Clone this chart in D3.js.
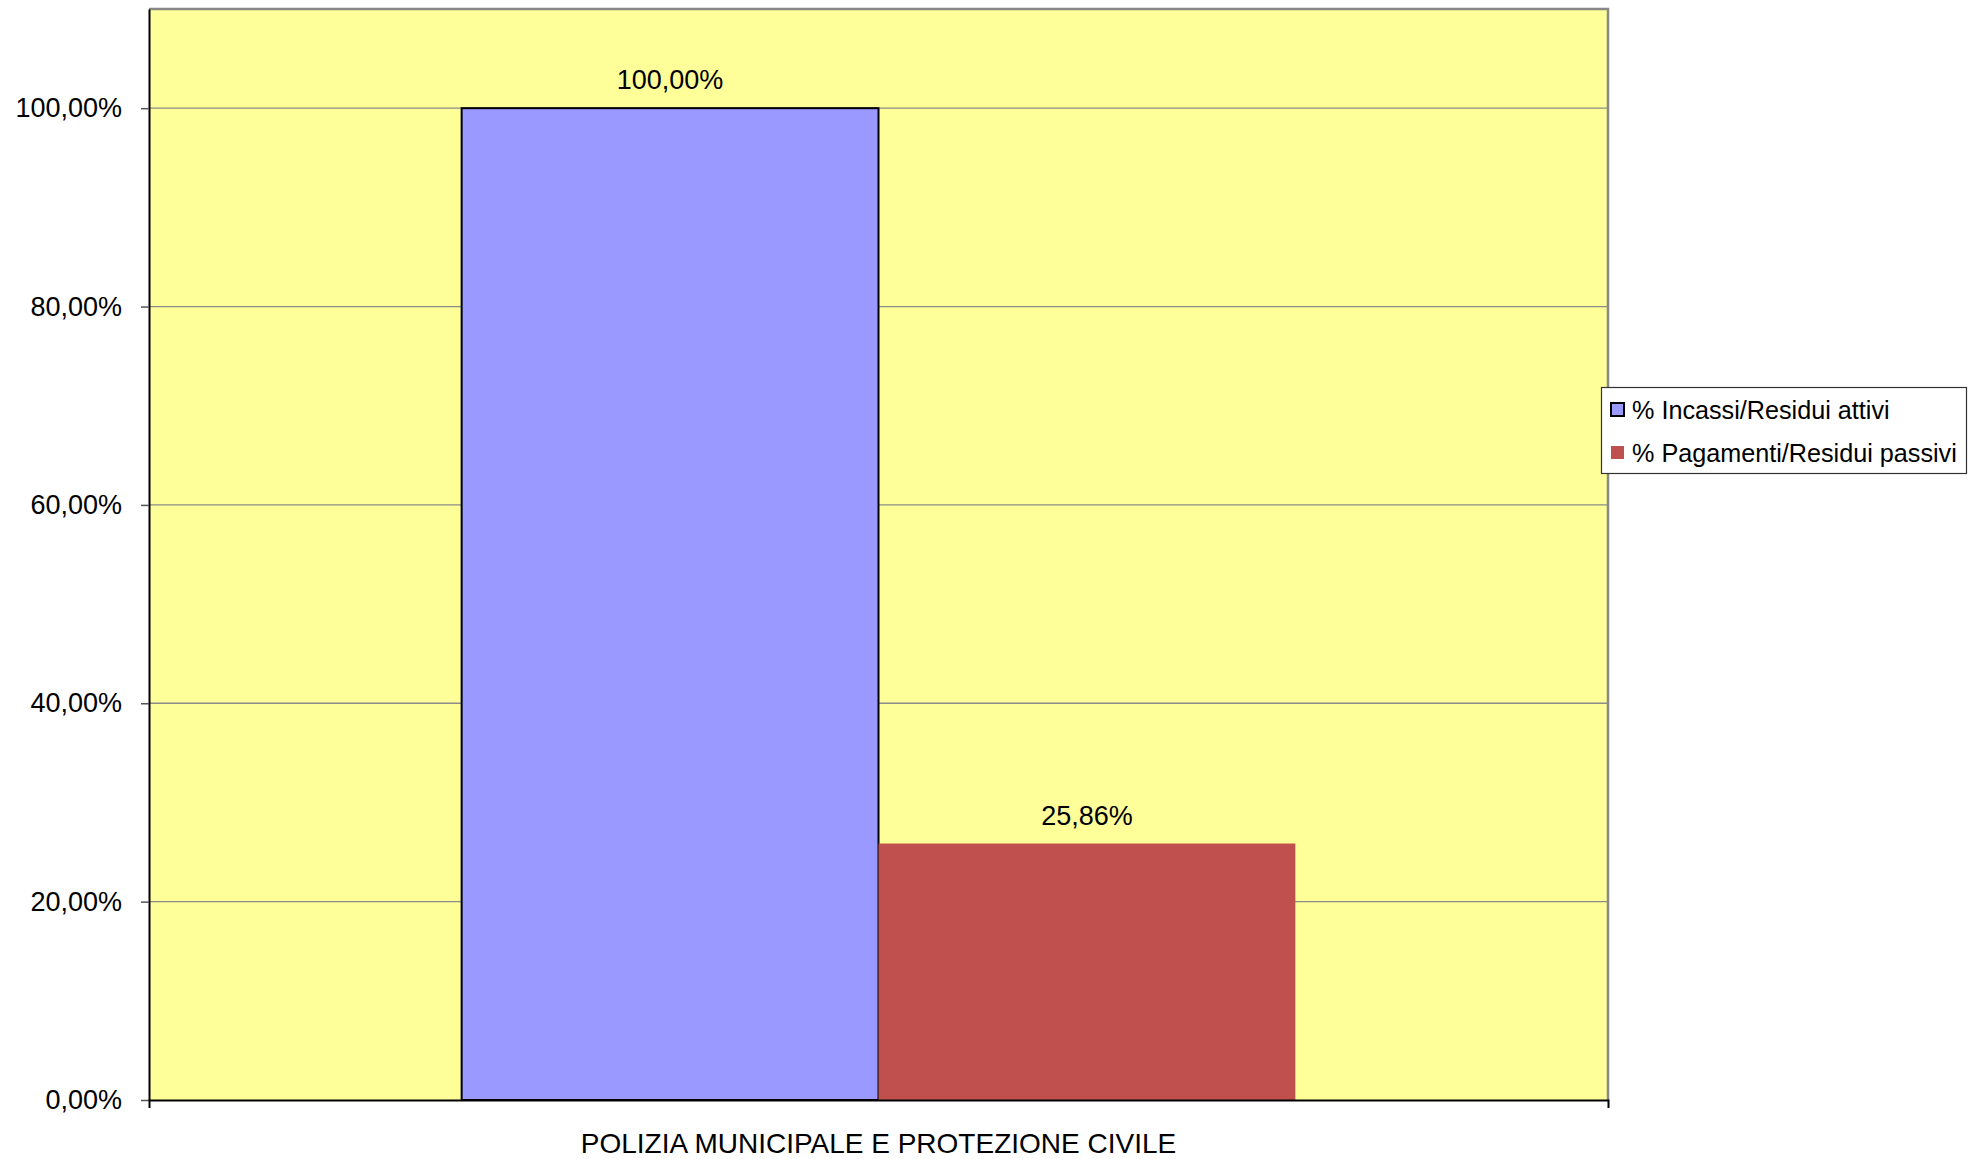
<!DOCTYPE html>
<html>
<head>
<meta charset="utf-8">
<script src="https://cdn.jsdelivr.net/npm/d3@7"></script>
<style>
html,body{margin:0;padding:0;background:#fff;}
svg{display:block;font-family:"Liberation Sans",Arial,sans-serif;}
</style>
</head>
<body>
<svg id="chart" width="1978" height="1159"></svg>
<script>
const categories = ["POLIZIA MUNICIPALE E PROTEZIONE CIVILE"];
const seriesNames = ["% Incassi/Residui attivi", "% Pagamenti/Residui passivi"];
const incassiValues = [100.00];
const pagamentiValues = [25.86];
const yTicks = [0, 20, 40, 60, 80, 100];
const seriesColors = ["#9999FF", "#C0504D"];

const svg = d3.select("#chart");
const plot = {left: 149, right: 1608, top: 9, bottom: 1100};

const fmt = v => d3.format(".2f")(v).replace(".", ",") + "%";

const y = d3.scaleLinear().domain([0, 110]).range([plot.bottom, plot.top]);
const x0 = d3.scaleBand().domain(categories).range([plot.left, plot.right]).paddingInner(0).paddingOuter(0);
const x1 = d3.scaleBand().domain(seriesNames).range([0, x0.bandwidth()]).paddingInner(0).paddingOuter(0.75);

// plot background
svg.append("rect").attr("x", plot.left).attr("y", plot.top)
  .attr("width", plot.right - plot.left).attr("height", plot.bottom - plot.top)
  .attr("fill", "#FFFF99");

// gridlines
svg.append("g").selectAll("line").data(yTicks.filter(d => d > 0)).join("line")
  .attr("x1", plot.left).attr("x2", plot.right)
  .attr("y1", d => y(d)).attr("y2", d => y(d))
  .attr("stroke", "#8c8c8c").attr("stroke-width", 1.3);

// top & right border
svg.append("path")
  .attr("d", `M${plot.left},${plot.top}H${plot.right}V${plot.bottom}`)
  .attr("fill", "none").attr("stroke", "#888").attr("stroke-width", 2.5);

// bars
const rows = categories.map((c, i) => ({cat: c, vals: [incassiValues[i], pagamentiValues[i]]}));
const groups = svg.append("g").selectAll("g").data(rows).join("g")
  .attr("transform", d => `translate(${x0(d.cat)},0)`);
groups.selectAll("rect").data(d => d.vals.map((v, j) => ({name: seriesNames[j], v, j}))).join("rect")
  .attr("x", d => x1(d.name)).attr("width", x1.bandwidth())
  .attr("y", d => y(d.v)).attr("height", d => y(0) - y(d.v))
  .attr("fill", d => seriesColors[d.j])
  .attr("stroke", d => d.j === 0 ? "#000" : "none")
  .attr("stroke-width", 2);
groups.selectAll("text").data(d => d.vals.map((v, j) => ({name: seriesNames[j], v, j}))).join("text")
  .attr("x", d => x1(d.name) + x1.bandwidth() / 2)
  .attr("y", d => y(d.v) - 19)
  .attr("text-anchor", "middle").attr("font-size", 27).attr("fill", "#000")
  .text(d => fmt(d.v));

// left axis
const yAxis = svg.append("g").attr("transform", `translate(${plot.left},0)`)
  .call(d3.axisLeft(y).tickValues(yTicks).tickFormat(fmt).tickSizeInner(8).tickSizeOuter(0).tickPadding(19));
yAxis.select(".domain").attr("stroke", "#000").attr("stroke-width", 2);
yAxis.selectAll(".tick line").attr("stroke", "#555").attr("stroke-width", 1.5);
yAxis.selectAll(".tick text").attr("font-size", 27).attr("fill", "#000").attr("font-family", "Liberation Sans, Arial, sans-serif");

// bottom axis
const xAxis = svg.append("g").attr("transform", `translate(0,${plot.bottom})`)
  .call(d3.axisBottom(x0).tickSizeInner(0).tickSizeOuter(8).tickPadding(33));
xAxis.select(".domain").attr("stroke", "#000").attr("stroke-width", 2);
xAxis.selectAll(".tick text").attr("font-size", 28).attr("fill", "#000").attr("font-family", "Liberation Sans, Arial, sans-serif");

// legend
const lg = svg.append("g");
lg.append("rect").attr("x", 1601.5).attr("y", 387.5).attr("width", 365).attr("height", 86)
  .attr("fill", "#fff").attr("stroke", "#333").attr("stroke-width", 1.2);
const items = lg.selectAll("g").data(seriesNames).join("g")
  .attr("transform", (d, i) => `translate(1610,${410 + i * 43})`);
items.append("rect").attr("x", 1).attr("y", -7).attr("width", 13).attr("height", 13)
  .attr("fill", (d, i) => seriesColors[i])
  .attr("stroke", (d, i) => i === 0 ? "#000" : "none").attr("stroke-width", 2);
items.append("text").attr("x", 22).attr("y", 9).attr("font-size", 25.2).attr("fill", "#000").text(d => d);
</script>
</body>
</html>
